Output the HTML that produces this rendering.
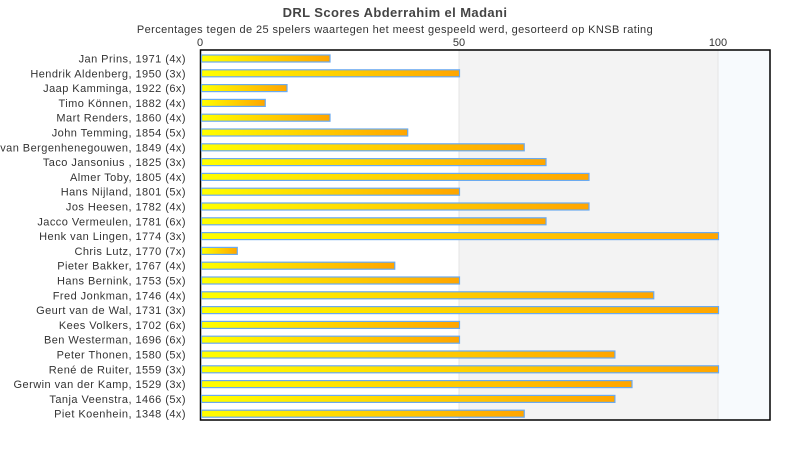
<!DOCTYPE html>
<html><head><meta charset="utf-8"><style>
body{margin:0;background:#fff;width:790px;height:450px;overflow:hidden;font-family:"Liberation Sans",sans-serif;color:#333}
</style></head><body>
<svg width="790" height="450" xmlns="http://www.w3.org/2000/svg" font-family="Liberation Sans, sans-serif">
<defs><linearGradient id="g" x1="0" x2="1" y1="0" y2="0"><stop offset="0" stop-color="#ffff00"/><stop offset="1" stop-color="#ffa500"/></linearGradient></defs>
<text x="395" y="17" text-anchor="middle" font-size="13" font-weight="bold" fill="#444" letter-spacing="0.4">DRL Scores Abderrahim el Madani</text>
<text x="395" y="33" text-anchor="middle" font-size="11" fill="#333" letter-spacing="0.4">Percentages tegen de 25 spelers waartegen het meest gespeeld werd, gesorteerd op KNSB rating</text>
<rect x="459" y="50" width="259" height="370" fill="#f3f3f3"/>
<rect x="718" y="50" width="52" height="370" fill="#f7fafd"/>
<line x1="459" y1="50" x2="459" y2="420" stroke="#e4e4e4"/>
<line x1="718" y1="50" x2="718" y2="420" stroke="#e4e4e4"/>
<rect x="200.5" y="50" width="569.5" height="370" fill="none" stroke="#000" stroke-width="1.5"/>
<g font-size="11" fill="#333" text-anchor="middle"><text x="200" y="46">0</text><text x="459" y="46">50</text><text x="718" y="46">100</text></g>
<g id="bars" font-size="11" fill="#333" text-anchor="end" letter-spacing="0.45"></g>
</svg>
<script>
var d=[["Jan Prins, 1971 (4x)",25],["Hendrik Aldenberg, 1950 (3x)",50],["Jaap Kamminga, 1922 (6x)",16.7],["Timo Können, 1882 (4x)",12.5],["Mart Renders, 1860 (4x)",25],["John Temming, 1854 (5x)",40],["Willem van Bergenhenegouwen, 1849 (4x)",62.5],["Taco Jansonius , 1825 (3x)",66.7],["Almer Toby, 1805 (4x)",75],["Hans Nijland, 1801 (5x)",50],["Jos Heesen, 1782 (4x)",75],["Jacco Vermeulen, 1781 (6x)",66.7],["Henk van Lingen, 1774 (3x)",100],["Chris Lutz, 1770 (7x)",7.1],["Pieter Bakker, 1767 (4x)",37.5],["Hans Bernink, 1753 (5x)",50],["Fred Jonkman, 1746 (4x)",87.5],["Geurt van de Wal, 1731 (3x)",100],["Kees Volkers, 1702 (6x)",50],["Ben Westerman, 1696 (6x)",50],["Peter Thonen, 1580 (5x)",80],["René de Ruiter, 1559 (3x)",100],["Gerwin van der Kamp, 1529 (3x)",83.3],["Tanja Veenstra, 1466 (5x)",80],["Piet Koenhein, 1348 (4x)",62.5]];
var g=document.getElementById('bars'),s='';
d.forEach(function(r,i){var c=58.5+i*14.8;
s+='<text x="186" y="'+(c+4)+'">'+r[0]+'</text>';
s+='<rect x="201.5" y="'+(c-3.5)+'" width="'+(r[1]*5.18-1)+'" height="7" fill="url(#g)" stroke="#6aaaf0" stroke-width="1.2"/>';});
g.innerHTML=s;
</script>
</body></html>
